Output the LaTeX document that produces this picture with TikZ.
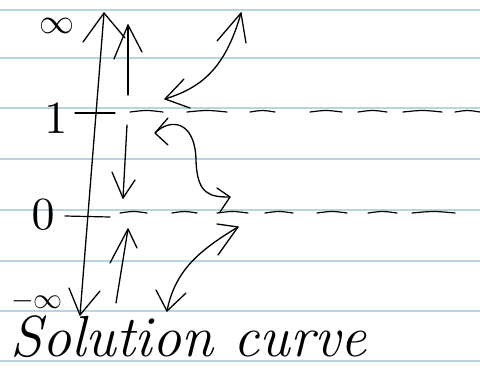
\documentclass[tikz,border=0pt]{standalone}
\begin{document}
\begin{tikzpicture}[x=1pt,y=-1pt,
  ruled/.style={draw=cyan!40!gray!45, line width=1.6pt},
  pen/.style={draw=black, line width=1.3pt, line cap=round, line join=round},
  dashseg/.style={pen, line width=1.2pt},
  lbl/.style={inner sep=0pt}]
\useasboundingbox (0,0) rectangle (480,368);
\fill[white] (0,0) rectangle (480,368);

% ruled notebook lines
\foreach \yy in {10,58,108,159,210,261,311,361}
  \draw[ruled] (0,\yy) -- (480,\yy);

% labels on the axis (math glyphs enlarged by scaling)
\node[lbl, scale=3.5] (inftop) at (57,26) {$\infty$};
\node[lbl, scale=4.6] (one) at (56,119) {$1$};
\node[lbl, scale=4.6] (zero) at (43,215) {$0$};
\node[lbl, scale=2.9] (infbot) at (37,301) {$-\infty$};

% main vertical line with arrows at both ends
\coordinate (axtop) at (104,13);
\coordinate (axbot) at (80,315);
\draw[pen] (axtop) -- (axbot);
\draw[pen] (83,42) -- (axtop) -- (125,38);
\draw[pen] (69,288) -- (axbot) -- (100,291);

% equilibrium line at 1
\draw[dashseg] (75,113) -- (115,113);
\foreach \a/\b in {130/163,187/227,250/275,310/342,358/387,403/442,455/480}
  \draw[dashseg] (\a,112) .. controls ({(\a+\b)/2},110) .. (\b,112);

% equilibrium line at 0
\draw[dashseg] (65,216) -- (110,217);
\foreach \a/\b in {120/147,172/197,217/248,265/293,317/347,368/397,412/455}
  \draw[dashseg] (\a,213) .. controls ({(\a+\b)/2},211) .. (\b,213);

% arrow rising above 1
\coordinate (upA) at (128,25);
\draw[pen] (128,95) -- (upA);
\draw[pen] (114,59) -- (upA) -- (142,52);

% arrow falling from 1 toward 0
\coordinate (downB) at (123,198);
\draw[pen] (127,125) -- (downB);
\draw[pen] (112,172) -- (downB) -- (135,180);

% arrow rising from below toward 0
\coordinate (upC) at (128,229);
\draw[pen] (116,303) -- (upC);
\draw[pen] (110,263) -- (upC) -- (137,248);

% curved double arrow above 1
\coordinate (dA1) at (165,99);
\coordinate (dA2) at (241,13);
\draw[pen] (dA1) .. controls (200,88) and (225,70) .. (dA2);
\draw[pen] (184,79) -- (dA1) -- (190,108);
\draw[pen] (217,41) -- (dA2) -- (246,43);

% S-shaped double arrow between 1 and 0
\coordinate (sA1) at (155,133);
\coordinate (sA2) at (230,197);
\draw[pen] (sA1) .. controls (170,118) and (195,120) .. (196,160)
           .. controls (197,195) and (210,197) .. (sA2);
\draw[pen] (168,145) -- (sA1) -- (168,118);
\draw[pen] (217,188) -- (sA2) -- (220,212);

% curved double arrow below 0
\coordinate (dB1) at (167,311);
\coordinate (dB2) at (238,227);
\draw[pen] (dB1) .. controls (175,270) and (200,250) .. (dB2);
\draw[pen] (156,290) -- (dB1) -- (186,293);
\draw[pen] (217,224) -- (dB2) -- (218,255);

% caption
\node[anchor=base west, inner sep=0pt, font=\fontsize{58}{58}\selectfont\itshape] (caption) at (10,356) {Solution curve};
\end{tikzpicture}
\end{document}
